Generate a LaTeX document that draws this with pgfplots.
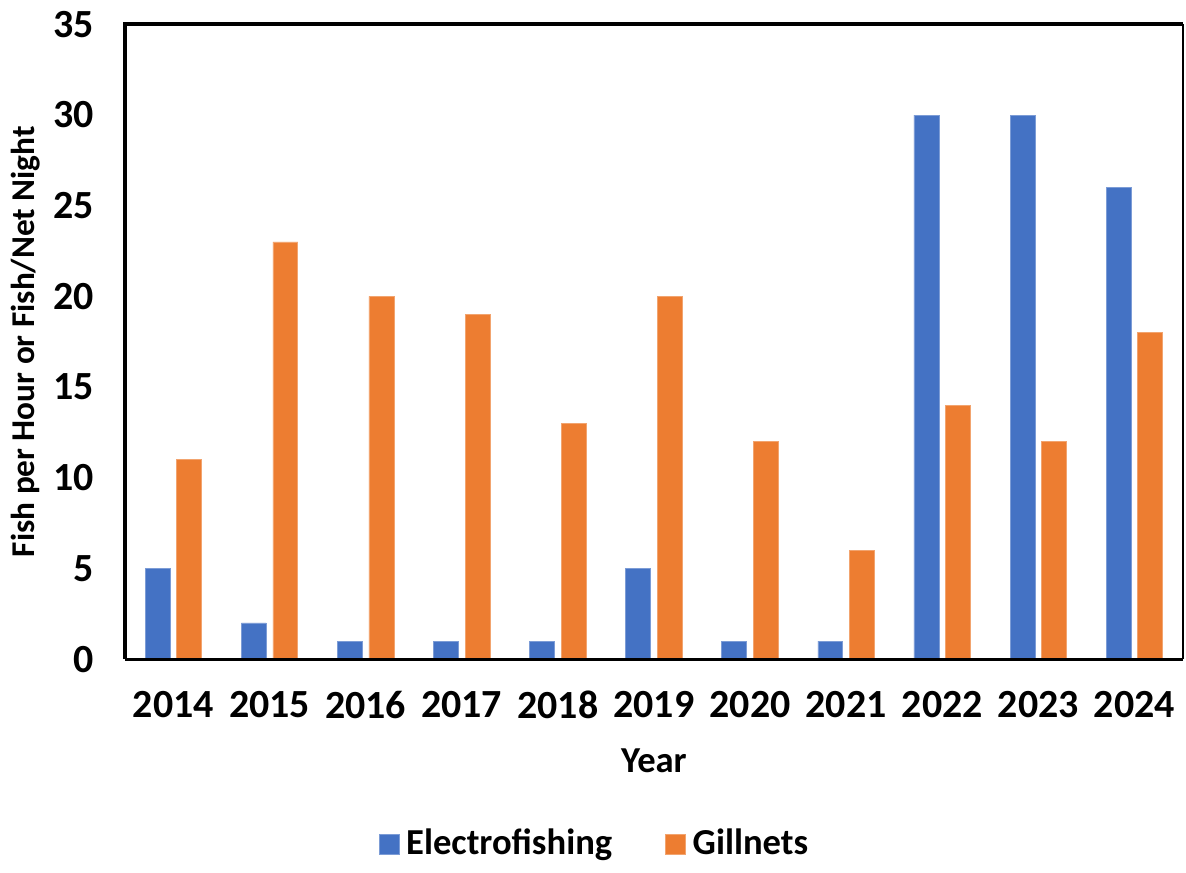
\documentclass[border=0pt]{standalone}
\usepackage{pgfplots}
\pgfplotsset{compat=1.18}
\usepackage{fontspec}
\setmainfont{Carlito}
\definecolor{eblue}{HTML}{4472C4}
\definecolor{gorange}{HTML}{ED7D31}
\begin{document}
\begin{tikzpicture}
\begin{axis}[
  scale only axis,
  width=317.7pt, height=190.8pt,
  ybar, bar width=7.5pt, bar shift auto,
  xmin=-0.5, xmax=10.5,
  ymin=0, ymax=35,
  ytick={0,5,...,35},
  xtick=data,
  xticklabels={2014,2015,2016,2017,2018,2019,2020,2021,2022,2023,2024},
  major tick length=0pt,
  axis line style={draw=none},
  /pgf/number format/assume math mode=true,
  tick label style={font=\fontsize{12}{14}\selectfont\bfseries},
  xticklabel style={yshift=-6pt},
  yticklabel style={xshift=-6pt},
  xlabel={Year},
  ylabel={Fish per Hour or Fish/Net Night},
  xlabel style={at={(rel axis cs:0.5,-0.16)}, anchor=center, font=\fontsize{11}{13}\selectfont\bfseries},
  ylabel style={at={(rel axis cs:-0.0944,0.5)}, anchor=center, font=\fontsize{10}{12}\selectfont\bfseries},
  legend style={at={(rel axis cs:0.446,-0.291)}, anchor=center, draw=none, legend columns=2,
    font=\fontsize{11}{13}\selectfont\bfseries,
    /tikz/every even column/.append style={column sep=14pt}},
  legend image code/.code={\fill[#1] (0pt,-3pt) rectangle (6pt,3pt);},
  after end axis/.code={
    \draw[line width=1.2pt] (rel axis cs:0,0) -- (rel axis cs:0,1) -- (rel axis cs:1,1);
    \draw[line width=0.6pt] (rel axis cs:1,1) -- (rel axis cs:1,0);
    \draw[line width=0.9pt] (rel axis cs:0,0) -- (rel axis cs:1,0);
    \path (rel axis cs:-0.118,-0.3255) rectangle (rel axis cs:1.0019,1.0346);
  },
]
\addplot[fill=eblue, draw=eblue!70!white, line width=0.2pt] coordinates {
  (0,5) (1,2) (2,1) (3,1) (4,1) (5,5) (6,1) (7,1) (8,30) (9,30) (10,26)};
\addplot[fill=gorange, draw=gorange!70!white, line width=0.2pt] coordinates {
  (0,11) (1,23) (2,20) (3,19) (4,13) (5,20) (6,12) (7,6) (8,14) (9,12) (10,18)};
\legend{Electrofishing,Gillnets}
\end{axis}
\end{tikzpicture}
\end{document}
